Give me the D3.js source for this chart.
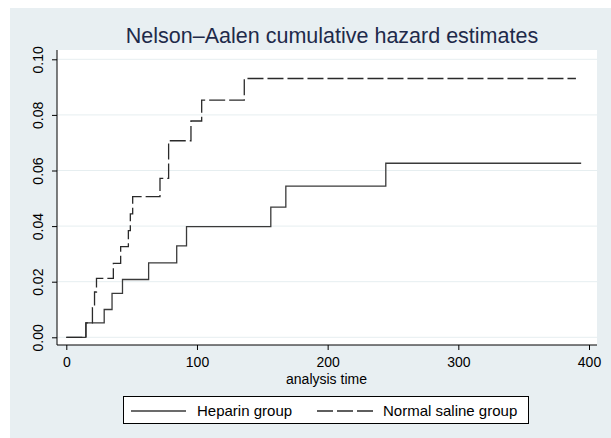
<!DOCTYPE html>
<html>
<head>
<meta charset="utf-8">
<script src="https://cdn.jsdelivr.net/npm/d3@7/dist/d3.min.js"></script>
<style>
  html, body { margin: 0; padding: 0; background: #ffffff; }
  svg { display: block; font-family: "Liberation Sans", Arial, sans-serif; }
</style>
</head>
<body>
<svg id="chart" width="611" height="438"></svg>
<script>
// Nelson–Aalen cumulative hazard, step functions per group
const heparinTimes  = [0, 15, 29, 35, 43, 63, 84.5, 92, 156.5, 168, 244.5, 394];
const heparinHazard = [0, 0.0052, 0.0100, 0.0158, 0.0208, 0.0268, 0.0329, 0.0398, 0.0468, 0.0544, 0.0626, 0.0626];

const salineTimes  = [0, 15, 20, 21.6, 23.1, 36, 41.6, 47.5, 49, 50.8, 71.7, 78.3, 95.4, 103.6, 136.2, 390];
const salineHazard = [0, 0.0052, 0.0107, 0.0163, 0.0212, 0.0266, 0.0326, 0.0384, 0.0444, 0.0506, 0.0572, 0.0707, 0.0778, 0.0853, 0.0931, 0.0931];

const xTicks = [0, 100, 200, 300, 400];
const yTicks = [0, 0.02, 0.04, 0.06, 0.08, 0.10];

const seriesNames = ["Heparin group", "Normal saline group"];
const titleText = "Nelson\u2013Aalen cumulative hazard estimates";
const xTitle = "analysis time";

const svg = d3.select("#chart");

// outer graph region
svg.append("rect").attr("x", 10).attr("y", 8).attr("width", 601).attr("height", 430)
  .attr("fill", "#e8eff2");

const plot = { left: 57, right: 597, top: 50, bottom: 345 };

svg.append("rect")
  .attr("x", plot.left).attr("y", plot.top)
  .attr("width", plot.right - plot.left).attr("height", plot.bottom - plot.top)
  .attr("fill", "#ffffff");

const x = d3.scaleLinear().domain([0, 400]).range([66.3, 589]);
const y = d3.scaleLinear().domain([0, 0.10]).range([337.3, 59.3]);

// horizontal grid
svg.append("g").selectAll("line").data(yTicks).join("line")
  .attr("x1", plot.left).attr("x2", plot.right)
  .attr("y1", d => y(d)).attr("y2", d => y(d))
  .attr("stroke", "#e6eef0").attr("stroke-width", 1);

// axes
const yAxis = d3.axisLeft(y).tickValues(yTicks).tickFormat(d3.format(".2f")).tickSize(5).tickSizeOuter(0);
const gy = svg.append("g").attr("transform", `translate(${plot.left},0)`).call(yAxis);
gy.select(".domain").attr("d", `M0,${plot.top}V${plot.bottom}`).attr("stroke", "#000");
gy.selectAll(".tick line").attr("stroke", "#000");
gy.selectAll(".tick text")
  .attr("transform", "rotate(-90)")
  .attr("x", null).attr("dy", null)
  .each(function(d) {
    d3.select(this).attr("x", -y(d)).attr("y", -14)
      .attr("text-anchor", "middle");
  })
  .attr("font-size", 14).attr("fill", "#000")
  .attr("font-family", "Liberation Sans, Arial, sans-serif");
// tick transforms put text relative to tick position; reset to absolute
gy.selectAll(".tick").each(function(d) {
  const t = d3.select(this);
  t.select("text").attr("x", 0).attr("y", -14)
    .attr("transform", "rotate(-90)");
});

const xAxis = d3.axisBottom(x).tickValues(xTicks).tickFormat(d3.format("d")).tickSize(5).tickSizeOuter(0);
const gx = svg.append("g").attr("transform", `translate(0,${plot.bottom})`).call(xAxis);
gx.select(".domain").attr("d", `M${plot.left},0H${plot.right}`).attr("stroke", "#000");
gx.selectAll(".tick line").attr("stroke", "#000");
gx.selectAll(".tick text").attr("y", 21.7).attr("dy", null)
  .attr("font-size", 14).attr("fill", "#000")
  .attr("font-family", "Liberation Sans, Arial, sans-serif");

svg.append("text").attr("x", 326.5).attr("y", 384)
  .attr("text-anchor", "middle").attr("font-size", 14).attr("fill", "#000")
  .text(xTitle);

// step lines
const step = d3.line().x(d => x(d[0])).y(d => y(d[1])).curve(d3.curveStepAfter);
const heparin = heparinTimes.map((t, i) => [t, heparinHazard[i]]);
const saline  = salineTimes.map((t, i) => [t, salineHazard[i]]);

svg.append("path").datum(heparin).attr("d", step)
  .attr("fill", "none").attr("stroke", "#3a3a3a").attr("stroke-width", 1.3);
svg.append("path").datum(saline).attr("d", step)
  .attr("fill", "none").attr("stroke", "#2a2a2a").attr("stroke-width", 1.3)
  .attr("stroke-dasharray", "16,4");

// title
svg.append("text").attr("x", 332).attr("y", 43)
  .attr("text-anchor", "middle").attr("font-size", 21.5).attr("fill", "#1e2a4a")
  .text(titleText);

// legend
const lg = svg.append("g");
lg.append("rect").attr("x", 123.5).attr("y", 396.5).attr("width", 405).attr("height", 27)
  .attr("fill", "#ffffff").attr("stroke", "#000").attr("stroke-width", 1);
lg.append("line").attr("x1", 131).attr("x2", 186).attr("y1", 411).attr("y2", 411)
  .attr("stroke", "#3a3a3a").attr("stroke-width", 1.3);
lg.append("text").attr("x", 197).attr("y", 416).attr("font-size", 15).attr("fill", "#000")
  .text(seriesNames[0]);
lg.append("line").attr("x1", 317).attr("x2", 373).attr("y1", 411).attr("y2", 411)
  .attr("stroke", "#2a2a2a").attr("stroke-width", 1.3).attr("stroke-dasharray", "16,4");
lg.append("text").attr("x", 383).attr("y", 416).attr("font-size", 15).attr("fill", "#000")
  .text(seriesNames[1]);
</script>
</body>
</html>
